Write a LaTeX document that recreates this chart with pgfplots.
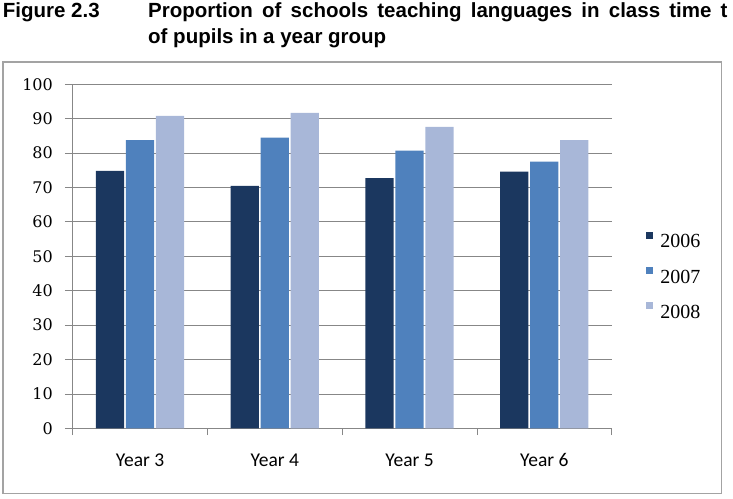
\documentclass[border=0pt]{standalone}
\usepackage{fontspec}
\setmainfont{Liberation Sans}
\newfontfamily\carlito{Carlito}
\newfontfamily\dvserif{DejaVu Serif}
\newfontfamily\libserif{Liberation Serif}
\usepackage{pgfplots}
\pgfplotsset{compat=1.18}
\definecolor{c06}{HTML}{1B375F}
\definecolor{c07}{HTML}{4F81BD}
\definecolor{c08}{HTML}{A8B7D8}
\definecolor{gridc}{HTML}{878787}
\definecolor{boxc}{HTML}{A3A3A3}
\begin{document}
\begin{tikzpicture}
\useasboundingbox (0,0) rectangle (733pt,498pt);
\node[anchor=base west, inner sep=0pt, font=\bfseries\fontsize{20.5pt}{26pt}\selectfont] at (2.7pt,480.5pt) {Figure 2.3};
\node[anchor=base west, inner sep=0pt, font=\bfseries\fontsize{20.5pt}{26pt}\selectfont] at (148pt,480.5pt) {\spaceskip=9.2pt\relax Proportion of schools teaching languages in class time t};
\node[anchor=base west, inner sep=0pt, font=\bfseries\fontsize{20.5pt}{26pt}\selectfont] at (148pt,454.5pt) {of pupils in a year group};
\draw[boxc, line width=1.3pt] (3pt,4.7pt) rectangle (721.7pt,436pt);
\begin{axis}[at={(72.7pt,69.7pt)}, anchor=south west, scale only axis,
  width=539pt, height=344pt,
  xmin=-0.5, xmax=3.5, ymin=0, ymax=100,
  ybar=1.7pt, bar width=28.3pt,
  axis x line=bottom, axis y line=left,
  axis line style={gridc, -, line width=0.8pt},
  ytick={0,10,...,100}, ymajorgrids, grid style={gridc, line width=0.8pt},
  xtick={0,1,2,3}, xticklabels={Year 3, Year 4, Year 5, Year 6},
  minor xtick={-0.5,0.5,1.5,2.5,3.5},
  tick align=outside, major tick length=7.7pt, minor tick length=6.7pt,
  major x tick style={draw=none},
  minor x tick style={gridc, line width=0.8pt},
  major y tick style={gridc, line width=0.8pt},
  /pgf/number format/assume math mode=true,
  yticklabel style={font=\dvserif\fontsize{16pt}{16pt}\selectfont, inner sep=0pt, xshift=-12pt, anchor=east},
  xticklabel style={font=\carlito\fontsize{19.5pt}{20pt}\selectfont, inner sep=0pt, anchor=base, yshift=-30pt},
  legend style={draw=none, fill=none, inner sep=0pt, outer sep=0pt,
    at={(1.0637,0.4436)}, anchor=west,
    font=\libserif\fontsize{20pt}{20pt}\selectfont,
    row sep=17.5pt, nodes={inner sep=0pt},
    /tikz/every odd column/.append style={column sep=7pt}},
  legend cell align=left,
  legend image code/.code={\fill[#1] (0pt,3pt) rectangle (7.3pt,10.3pt);},
]
\addplot[fill=c06, draw=none] coordinates {(0,74.8) (1,70.5) (2,72.7) (3,74.6)};
\addplot[fill=c07, draw=none] coordinates {(0,83.8) (1,84.5) (2,80.7) (3,77.5)};
\addplot[fill=c08, draw=none] coordinates {(0,90.8) (1,91.7) (2,87.6) (3,83.8)};
\legend{2006,2007,2008}
\end{axis}
\end{tikzpicture}
\end{document}
